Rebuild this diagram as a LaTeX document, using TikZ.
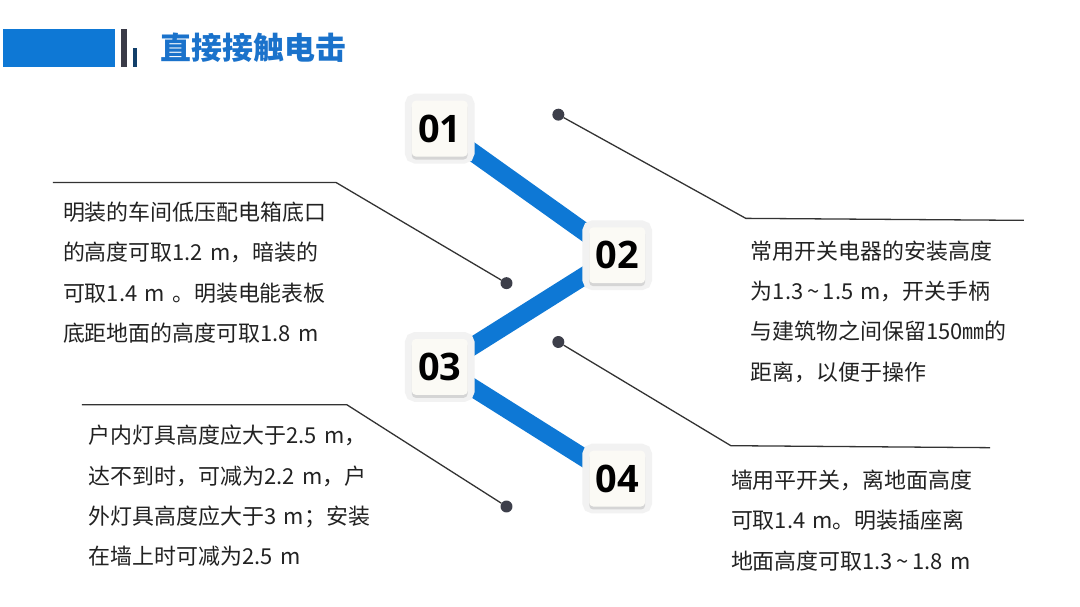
\documentclass[tikz,border=0pt]{standalone}
\usepackage{fontspec}
\setmainfont{Noto Sans CJK SC}
\newfontfamily\numfont{Open Sans}
\usetikzlibrary{positioning,shadows,backgrounds}
\definecolor{mainblue}{HTML}{0E78D5}
\definecolor{titleblue}{HTML}{1A72CB}
\definecolor{barblack}{HTML}{3A3B47}
\definecolor{navy}{HTML}{123F6A}
\definecolor{boxface}{HTML}{FBFAF5}
\definecolor{dotgray}{HTML}{3D3F4A}
\definecolor{leadgray}{HTML}{333333}
\definecolor{txt}{HTML}{222222}
\newcommand{\tld}{\,\textasciitilde\,}

\begin{document}
\begin{tikzpicture}[x=1pt,y=-1pt,
  numbox/.style={rectangle,rounded corners=4pt,fill=boxface,minimum size=56pt,inner sep=0pt,font=\numfont\bfseries\fontsize{38}{38}\selectfont,
    preaction={draw=black!5,line width=14pt},drop shadow={shadow xshift=0pt,shadow yshift=-3pt,fill=black!30,opacity=.45}},
  dot/.style={circle,fill=dotgray,minimum size=12pt,inner sep=0pt},
  lead/.style={leadgray,line width=1.3pt},
  band/.style={mainblue,line width=18pt},
  note/.style={anchor=base west,inner sep=0pt,text width=330pt,align=left,text=txt,font=\fontsize{22}{40.5}\selectfont}]
% header
\fill[mainblue] (3,29) rectangle (115,67);
\fill[barblack] (121,29) rectangle (127,67);
\fill[navy] (133,48) rectangle (137,67);
\node[anchor=west,inner sep=0pt,text=titleblue,font=\bfseries\fontsize{31}{31}\selectfont] (title) at (161,48) {直接接触电击};
% steps
\node[numbox] (s1) at (441,129){01};\node[numbox] (s2) at (619,256){02};\node[numbox] (s3) at (441,368){03};\node[numbox] (s4) at (619,480){04};
\begin{scope}[on background layer]
\fill[white] (0,0) rectangle (1080,608);
\draw[band] (s1.center)--(s2.center);\draw[band] (s2.center)--(s3.center);\draw[band] (s3.center)--(s4.center);
\end{scope}
% leads
\node[dot] (d1) at (560,115){};\node[dot] (d2) at (508,284){};\node[dot] (d3) at (560,343){};\node[dot] (d4) at (508,508){};
\coordinate (k1) at (748,219);\coordinate (e1) at (1027,221);
\coordinate (k2) at (337,183);\coordinate (e2) at (53,183);
\coordinate (k3) at (733,447);\coordinate (e3) at (993,449);
\coordinate (k4) at (348,406);\coordinate (e4) at (82,406);
\draw[lead] (d1)--(k1)--(e1);\draw[lead] (d2)--(k2)--(e2);
\draw[lead] (d3)--(k3)--(e3);\draw[lead] (d4)--(k4)--(e4);
% notes
\node[note] (n1) at (753,260){常用开关电器的安装高度\\为1.3\tld1.5 m，开关手柄\\与建筑物之间保留150㎜的\\距离，以便于操作};
\node[note] (n2) at (63,221){明装的车间低压配电箱底口\\的高度可取1.2 m，暗装的\\可取1.4 m 。明装电能表板\\底距地面的高度可取1.8 m};
\node[note] (n3) at (89,445){户内灯具高度应大于2.5 m，\\达不到时，可减为2.2 m，户\\外灯具高度应大于3 m；安装\\在墙上时可减为2.5 m};
\node[note] (n4) at (733,490){墙用平开关，离地面高度\\可取1.4 m。明装插座离\\地面高度可取1.3\tld1.8 m};
\end{tikzpicture}
\end{document}
